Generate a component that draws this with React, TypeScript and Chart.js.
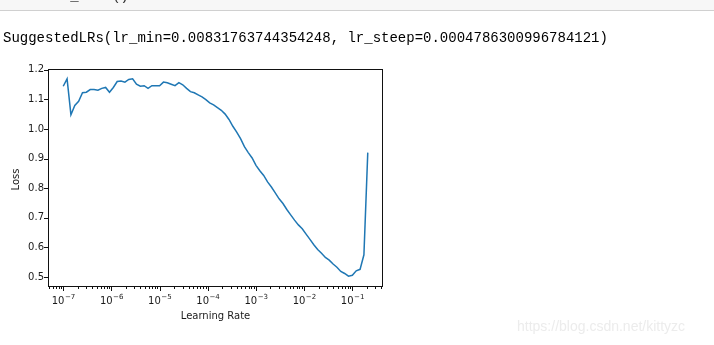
import React, { useEffect, useRef } from 'react';
import { Chart, registerables } from 'chart.js';

Chart.register(...registerables);

// ---- data ----
const learningRates = [
  1.000e-7, 1.202e-7, 1.445e-7, 1.738e-7, 2.089e-7, 2.512e-7, 3.020e-7, 3.631e-7, 4.365e-7, 5.248e-7,
  6.310e-7, 7.586e-7, 9.120e-7, 1.096e-6, 1.318e-6, 1.585e-6, 1.905e-6, 2.291e-6, 2.754e-6, 3.311e-6,
  3.981e-6, 4.786e-6, 5.754e-6, 6.918e-6, 8.318e-6, 1.000e-5, 1.202e-5, 1.445e-5, 1.738e-5, 2.089e-5,
  2.512e-5, 3.020e-5, 3.631e-5, 4.365e-5, 5.248e-5, 6.310e-5, 7.586e-5, 9.120e-5, 1.096e-4, 1.318e-4,
  1.585e-4, 1.905e-4, 2.291e-4, 2.754e-4, 3.311e-4, 3.981e-4, 4.786e-4, 5.754e-4, 6.918e-4, 8.318e-4,
  1.000e-3, 1.202e-3, 1.445e-3, 1.738e-3, 2.089e-3, 2.512e-3, 3.020e-3, 3.631e-3, 4.365e-3, 5.248e-3,
  6.310e-3, 7.586e-3, 9.120e-3, 1.096e-2, 1.318e-2, 1.585e-2, 1.905e-2, 2.291e-2, 2.754e-2, 3.311e-2,
  3.981e-2, 4.786e-2, 5.754e-2, 6.918e-2, 8.318e-2, 1.000e-1, 1.202e-1, 1.445e-1, 1.738e-1, 2.089e-1,
];
const losses = [
  1.144, 1.169, 1.048, 1.079, 1.093, 1.122, 1.124, 1.133, 1.133, 1.131,
  1.137, 1.140, 1.124, 1.140, 1.160, 1.162, 1.158, 1.167, 1.169, 1.151,
  1.144, 1.146, 1.137, 1.146, 1.146, 1.146, 1.158, 1.156, 1.151, 1.146,
  1.156, 1.149, 1.137, 1.126, 1.122, 1.115, 1.108, 1.099, 1.088, 1.081,
  1.072, 1.063, 1.050, 1.032, 1.009, 0.989, 0.967, 0.940, 0.920, 0.902,
  0.877, 0.859, 0.843, 0.821, 0.804, 0.784, 0.764, 0.748, 0.728, 0.710,
  0.692, 0.676, 0.663, 0.645, 0.627, 0.609, 0.593, 0.580, 0.566, 0.557,
  0.544, 0.533, 0.519, 0.512, 0.503, 0.506, 0.521, 0.526, 0.575, 0.920,
];
const yTickValues = [0.5, 0.6, 0.7, 0.8, 0.9, 1.0, 1.1, 1.2];
const xMajorTicks = [1e-7, 1e-6, 1e-5, 1e-4, 1e-3, 1e-2, 1e-1];
const xTickBase = '10';
const xTickExponents = ['\u22127', '\u22126', '\u22125', '\u22124', '\u22123', '\u22122', '\u22121'];
const minorMultipliers = [2, 3, 4, 5, 6, 7, 8, 9];
const headerText = 'SuggestedLRs(lr_min=0.00831763744354248, lr_steep=0.0004786300996784121)';
const codeText = 'learn.lr_find()';
const xTitle = 'Learning Rate';
const yTitle = 'Loss';
const watermark = 'https://blog.csdn.net/kittyzc';

// matplotlib-like 5% margins
const lxMin = Math.log10(Math.min(...learningRates));
const lxMax = Math.log10(Math.max(...learningRates));
const xPad = (lxMax - lxMin) * 0.05;
const X_MIN = Math.pow(10, lxMin - xPad);
const X_MAX = Math.pow(10, lxMax + xPad);
const yMinD = Math.min(...losses);
const yMaxD = Math.max(...losses);
const yPad = (yMaxD - yMinD) * 0.05;
const Y_MIN = yMinD - yPad;
const Y_MAX = yMaxD + yPad;

const FONT = '"DejaVu Sans", sans-serif';

const decorPlugin = {
  id: 'mplDecor',
  beforeDraw(chart: any) {
    const ctx = chart.ctx;
    ctx.save();
    ctx.fillStyle = '#ffffff';
    ctx.fillRect(0, 0, chart.width, chart.height);
    ctx.fillStyle = '#f7f7f7';
    ctx.fillRect(0, 0, chart.width, 10);
    ctx.fillStyle = '#d0d0d0';
    ctx.fillRect(0, 10, chart.width, 1);
    ctx.fillStyle = '#333';
    ctx.font = '14px "Liberation Mono", monospace';
    ctx.textBaseline = 'alphabetic';
    ctx.textAlign = 'left';
    ctx.fillText(codeText, 3, 0);
    ctx.fillStyle = '#000';
    ctx.fillText(headerText, 3, 42);
    ctx.restore();
  },
  afterDraw(chart: any) {
    const ctx = chart.ctx;
    const { left, right, top, bottom } = chart.chartArea;
    const xs = chart.scales.x;
    const ys = chart.scales.y;
    ctx.save();
    ctx.fillStyle = '#111';
    // spines
    ctx.fillRect(left, top, right - left, 1);
    ctx.fillRect(left, bottom, right - left, 1);
    ctx.fillRect(left, top, 1, bottom - top + 1);
    ctx.fillRect(right - 1, top, 1, bottom - top + 1);
    // x tick marks
    for (const t of xs.ticks) {
      const px = Math.round(xs.getPixelForValue(t.value));
      const len = t.major ? 4 : 2;
      ctx.fillRect(px, bottom + 1, 1, len);
    }
    // y tick marks
    for (const t of ys.ticks) {
      const py = Math.round(ys.getPixelForValue(t.value));
      ctx.fillRect(left - 4, py, 4, 1);
    }
    // x tick labels (mathtext-like 10^-n)
    ctx.fillStyle = '#1a1a1a';
    ctx.textBaseline = 'alphabetic';
    ctx.textAlign = 'left';
    xMajorTicks.forEach((v, i) => {
      const px = xs.getPixelForValue(v);
      ctx.font = `10px ${FONT}`;
      const w1 = ctx.measureText(xTickBase).width;
      ctx.font = `7px ${FONT}`;
      const w2 = ctx.measureText(xTickExponents[i]).width;
      const x0 = px - (w1 + w2) / 2;
      ctx.font = `10px ${FONT}`;
      ctx.fillText(xTickBase, x0, bottom + 18);
      ctx.font = `7px ${FONT}`;
      ctx.fillText(xTickExponents[i], x0 + w1 + 0.5, bottom + 13);
    });
    // axis titles
    ctx.font = `10px ${FONT}`;
    ctx.textAlign = 'center';
    ctx.fillText(xTitle, (left + right) / 2, bottom + 33);
    ctx.save();
    ctx.translate(19, (top + bottom) / 2 + 2);
    ctx.rotate(-Math.PI / 2);
    ctx.fillText(yTitle, 0, 0);
    ctx.restore();
    // watermark
    ctx.font = '14px "Liberation Sans", sans-serif';
    ctx.fillStyle = '#ececec';
    ctx.textAlign = 'left';
    ctx.fillText(watermark, 517, 331);
    ctx.restore();
  },
};

export default function App() {
  const ref = useRef<HTMLCanvasElement>(null);
  useEffect(() => {
    const canvas = ref.current;
    if (!canvas) return;
    const chart = new Chart(canvas, {
      type: 'line',
      data: {
        datasets: [
          {
            data: learningRates.map((lr, i) => ({ x: lr, y: losses[i] })),
            borderColor: '#1f77b4',
            borderWidth: 1.5,
            pointRadius: 0,
            fill: false,
            tension: 0,
          },
        ],
      },
      options: {
        responsive: false,
        maintainAspectRatio: false,
        animation: false,
        devicePixelRatio: 1,
        layout: { padding: { left: 8, right: 331, top: 69, bottom: 19 } },
        plugins: { legend: { display: false }, tooltip: { enabled: false } },
        scales: {
          x: {
            type: 'logarithmic',
            min: X_MIN,
            max: X_MAX,
            grid: { display: false, drawTicks: false },
            border: { display: false },
            ticks: { display: false },
            afterBuildTicks: (scale: any) => {
              const ticks: any[] = [];
              for (let e = -9; e <= 1; e++) {
                const base = Math.pow(10, e);
                if (base >= X_MIN && base <= X_MAX) ticks.push({ value: base, major: true });
                for (const m of minorMultipliers) {
                  const v = m * base;
                  if (v >= X_MIN && v <= X_MAX) ticks.push({ value: v, major: false });
                }
              }
              scale.ticks = ticks;
            },
            afterFit: (scale: any) => {
              scale.height = 40;
            },
          },
          y: {
            type: 'linear',
            min: Y_MIN,
            max: Y_MAX,
            grid: { display: false, drawTicks: false },
            border: { display: false },
            ticks: {
              autoSkip: false,
              padding: 4,
              color: '#1a1a1a',
              font: { family: 'DejaVu Sans', size: 10 },
              callback: (v: any) => Number(v).toFixed(1),
            },
            afterBuildTicks: (scale: any) => {
              scale.ticks = yTickValues.map((v) => ({ value: v }));
            },
            afterFit: (scale: any) => {
              scale.width = 40;
            },
          },
        },
      },
      plugins: [decorPlugin],
    } as any);
    return () => chart.destroy();
  }, []);
  return (
    <div style={{ position: 'fixed', left: 0, top: 0, width: 714, height: 345, background: '#fff' }}>
      <canvas ref={ref} width={714} height={345} style={{ display: 'block', width: 714, height: 345 }} />
    </div>
  );
}
